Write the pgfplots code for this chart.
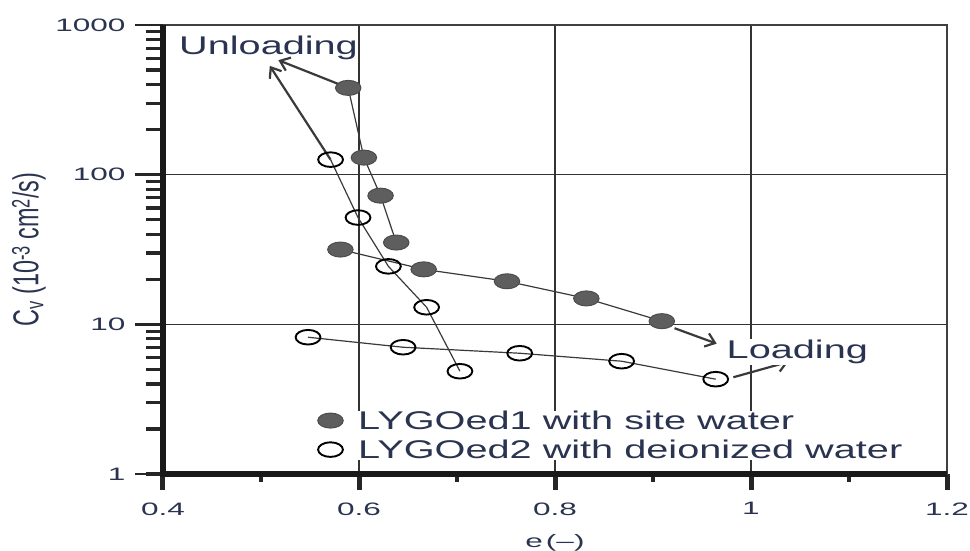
\documentclass[border=0pt]{standalone}
\usepackage{fontspec}
\setmainfont{Liberation Sans}
\newfontfamily\tickfont{Liberation Sans}[FakeStretch=1.75]
\newfontfamily\widefont{Liberation Sans}[FakeStretch=1.55]
\newfontfamily\ylabfont{Liberation Sans}[FakeStretch=0.65]
\usepackage{pgfplots}
\pgfplotsset{compat=1.18}
\usetikzlibrary{arrows.meta}
\definecolor{txt}{HTML}{2A3450}
\definecolor{ink}{HTML}{3A3A3A}
\definecolor{dot}{HTML}{5E5E5E}
\pgfplotsset{onemark/.style={legend image code/.code={\draw[##1] plot coordinates {(0bp,0bp)};}}}
\begin{document}
\begin{tikzpicture}
\begin{axis}[
  at={(0,0)}, anchor=south west,
  scale only axis, width=784bp, height=449bp,
  xmin=0.4, xmax=1.2, ymin=1, ymax=1000, ymode=log,
  clip=false,
  axis line style={line width=1.5bp, draw=black!75},
  grid=major,
  major grid style={line width=1.3bp, draw=black!80},
  tick align=outside, xtick pos=left, ytick pos=left,
  tick style={draw=black!85},
  major tick length=16bp, minor tick length=17bp,
  every major x tick/.append style={line width=5bp},
  every major y tick/.append style={line width=2.6bp},
  every minor y tick/.append style={line width=3.3bp},
  xtick={0.4,0.6,0.8,1,1.2}, xticklabels={0.4,0.6,0.8,1,1.2},
  ytick={1,10,100,1000}, yticklabels={1,10,100,1000},
  extra x ticks={0.5,0.7,0.9,1.1}, extra x tick labels={},
  extra x tick style={major tick length=8bp, grid=none,
    every major x tick/.append style={line width=3.3bp}},
  extra y ticks={1,10,100,1000}, extra y tick labels={},
  extra y tick style={major tick length=28bp, grid=none},
  tick label style={font=\tickfont\fontsize{18bp}{20bp}\selectfont, text=txt},
  yticklabel style={xshift=-18bp},
  xticklabel style={yshift=-9bp},
  xlabel={e\,(–)},
  every axis x label/.style={at={(axis description cs:0.5,-0.154)}, anchor=center,
    font=\tickfont\fontsize{18bp}{20bp}\selectfont, text=txt},
  ylabel={C\textsubscript{v} (10\textsuperscript{-3}\,cm\textsuperscript{2}/s)},
  every axis y label/.style={at={(axis description cs:-0.171,0.5)}, rotate=90, anchor=center,
    font=\ylabfont\fontsize{36bp}{38bp}\selectfont, text=txt},
  legend style={at={(axis cs:0.5577,1.82)}, anchor=west, draw=none, fill=white,
    inner sep=0pt, row sep=9bp, column sep=15bp,
    font=\widefont\fontsize{25.6bp}{29bp}\selectfont, text=txt,
    cells={anchor=west}, nodes={inner sep=0pt}},
]
% connecting lines
\addplot[ink, line width=1.2bp, forget plot] coordinates {
  (0.581,31.6) (0.666,23.3) (0.751,19.4) (0.832,14.9) (0.909,10.5)};
\addplot[ink, line width=1.2bp, forget plot] coordinates {
  (0.638,35.2) (0.622,72.4) (0.605,130) (0.589,380)};
\addplot[ink, line width=1.2bp, forget plot] coordinates {
  (0.548,8.2) (0.645,7.03) (0.764,6.41) (0.868,5.67) (0.964,4.30)};
\addplot[ink, line width=1.2bp, forget plot] coordinates {
  (0.703,4.86) (0.669,13.0) (0.630,24.4) (0.599,51.7) (0.571,126)};
% arrows
\draw[ink, line width=2.2bp, -{Straight Barb[length=9bp,width=14bp]}] (axis cs:0.589,380) -- (axis cs:0.5177,582);
\draw[ink, line width=2.2bp, -{Straight Barb[length=9bp,width=14bp]}] (axis cs:0.571,126) -- (axis cs:0.509,533);
\draw[ink, line width=2.2bp, -{Straight Barb[length=9bp,width=14bp]}] (axis cs:0.922,9.42) -- (axis cs:0.965,7.43);
\draw[ink, line width=2.2bp, -{Straight Barb[length=9bp,width=14bp]}] (axis cs:0.982,4.43) -- (axis cs:1.038,5.61);
% markers
\addplot[only marks, mark=*, mark size=7.5bp,
  mark options={xscale=1.7, fill=dot, draw=black!70, line width=1bp}, onemark] coordinates {
  (0.581,31.6) (0.666,23.3) (0.751,19.4) (0.832,14.9) (0.909,10.5)
  (0.638,35.2) (0.622,72.4) (0.605,130) (0.589,380)};
\addplot[only marks, mark=o, mark size=7.3bp,
  mark options={xscale=1.7, draw=black, line width=1.9bp}, onemark] coordinates {
  (0.548,8.2) (0.645,7.03) (0.764,6.41) (0.868,5.67) (0.964,4.30)
  (0.703,4.86) (0.669,13.0) (0.630,24.4) (0.599,51.7) (0.571,126)};
\legend{LYGOed1 with site water, LYGOed2 with deionized water}
% annotations
\node[anchor=base west, inner sep=0pt, text=txt, font=\widefont\fontsize{25.6bp}{29bp}\selectfont]
  at (axis cs:0.4163,638) {Unloading};
\node[anchor=base west, inner sep=1bp, fill=white, text=txt, font=\widefont\fontsize{25.6bp}{29bp}\selectfont]
  at (axis cs:0.974,5.91) {Loading};
% heavy left and bottom spines
\draw[line width=5.5bp, black!90, line join=miter] (rel axis cs:0,1) -- (rel axis cs:0,0) -- (rel axis cs:1,0);
\end{axis}
\pgfresetboundingbox
\path (-163bp,-77bp) rectangle (807bp,474bp);
\end{tikzpicture}
\end{document}
